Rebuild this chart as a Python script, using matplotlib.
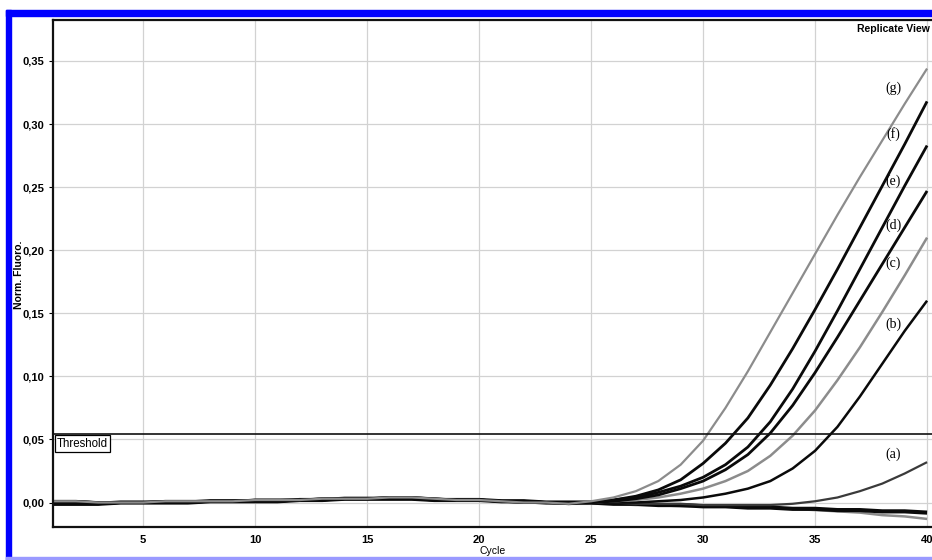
import matplotlib
matplotlib.use("Agg")
import matplotlib.pyplot as plt
from matplotlib.patches import Rectangle

# cycles 1..40
cycles = list(range(1, 41))

# shared early baselines (cycles 1..24)
base_a = [-0.001, -0.001, -0.001, 0.000, 0.000, 0.000, 0.000, 0.001, 0.001, 0.001, 0.001, 0.002,
          0.002, 0.003, 0.003, 0.003, 0.003, 0.002, 0.002, 0.002, 0.001, 0.001, 0.000, 0.000]
base_b = [0.001, 0.001, 0.000, 0.000, 0.000, 0.001, 0.001, 0.001, 0.001, 0.002, 0.002, 0.002,
          0.003, 0.003, 0.003, 0.004, 0.004, 0.003, 0.002, 0.002, 0.001, 0.000, 0.000, -0.001]

# cycles 25..40
tail_g = [0.001, 0.004, 0.009, 0.017, 0.030, 0.049, 0.075, 0.104, 0.135, 0.166, 0.197, 0.228, 0.258, 0.287, 0.316, 0.344]
tail_f = [0.000, 0.002, 0.005, 0.010, 0.018, 0.031, 0.047, 0.067, 0.093, 0.122, 0.153, 0.185, 0.218, 0.251, 0.284, 0.318]
tail_e = [0.000, 0.002, 0.004, 0.008, 0.013, 0.020, 0.030, 0.044, 0.064, 0.090, 0.120, 0.152, 0.185, 0.218, 0.251, 0.283]
tail_d = [0.000, 0.001, 0.003, 0.006, 0.011, 0.017, 0.026, 0.038, 0.055, 0.077, 0.103, 0.131, 0.160, 0.189, 0.218, 0.247]
tail_c = [0.000, 0.001, 0.002, 0.004, 0.007, 0.011, 0.017, 0.025, 0.037, 0.053, 0.073, 0.097, 0.123, 0.151, 0.180, 0.210]
tail_b = [0.000, 0.000, 0.000, 0.001, 0.002, 0.004, 0.007, 0.011, 0.017, 0.027, 0.041, 0.060, 0.084, 0.110, 0.136, 0.160]
tail_a = [0.000, 0.000, -0.001, -0.001, -0.001, -0.002, -0.002, -0.002, -0.002, -0.001, 0.001, 0.004, 0.009, 0.015, 0.023, 0.032]
tail_neg1 = [0.000, -0.001, -0.001, -0.002, -0.002, -0.003, -0.003, -0.004, -0.004, -0.005, -0.005, -0.006, -0.006, -0.007, -0.007, -0.008]
tail_neg2 = [-0.001, -0.001, -0.002, -0.002, -0.003, -0.003, -0.003, -0.004, -0.004, -0.005, -0.006, -0.007, -0.008, -0.010, -0.011, -0.013]

threshold = 0.0543

labels = ["(a)", "(b)", "(c)", "(d)", "(e)", "(f)", "(g)"]
label_y = [0.038, 0.141, 0.190, 0.220, 0.255, 0.292, 0.328]
label_x = 38.5

gray = "#8c8c8c"
black = "#0a0a0a"

curves = [
    (base_b + tail_neg2, gray, 1.8),
    (base_a + tail_neg1, black, 3.0),
    (base_b + tail_a, "#3a3a3a", 1.6),
    (base_a + tail_b, black, 1.8),
    (base_b + tail_c, gray, 1.8),
    (base_a + tail_d, black, 2.0),
    (base_b + tail_e, black, 2.0),
    (base_a + tail_f, black, 2.0),
    (base_b + tail_g, gray, 1.6),
]

fig = plt.figure(figsize=(9.32, 5.6), dpi=100)
ax = fig.add_axes([53 / 932, 1 - 527 / 560, 1 - 53 / 932, (527 - 20) / 560])

for y, col, lw in curves:
    ax.plot(cycles, y, color=col, lw=lw, solid_capstyle="butt", solid_joinstyle="round")

ax.axhline(threshold, color="#111111", lw=1.2)
ax.text(1.15, threshold - 0.0028, "Threshold", fontsize=8.3, family="Liberation Sans",
        va="top", ha="left",
        bbox=dict(boxstyle="square,pad=0.18", fc="white", ec="black", lw=0.9))

for lab, ly in zip(labels, label_y):
    ax.text(label_x, ly, lab, fontsize=10, family="Liberation Serif", ha="center", va="center")

ax.set_xlim(0.98, 40.22)
ax.set_ylim(-0.0194, 0.3825)
ax.set_xticks(range(5, 41, 5))
ax.set_yticks([0.0, 0.05, 0.10, 0.15, 0.20, 0.25, 0.30, 0.35])
ax.set_yticklabels(["0,00", "0,05", "0,10", "0,15", "0,20", "0,25", "0,30", "0,35"])
ax.grid(True, color="#d2d2d2", lw=0.9)
ax.set_axisbelow(True)
ax.tick_params(axis="both", labelsize=8, length=3, width=0.8)
ax.tick_params(axis="x", length=0, pad=6)
for lab in ax.get_xticklabels() + ax.get_yticklabels():
    lab.set_fontweight("bold")
    lab.set_family("Liberation Sans")
for s in ax.spines.values():
    s.set_linewidth(1.6)
    s.set_color("#111111")
ax.spines["right"].set_visible(False)

ax.set_xlabel("Cycle", fontsize=7.5, family="Liberation Sans")
ax.xaxis.set_label_coords(0.5, -0.038)
ax.set_ylabel("Norm. Fluoro.", fontsize=7.5, fontweight="bold", family="Liberation Sans")
ax.yaxis.set_label_coords(-0.0335, 0.497)

fig.text(930 / 932, 1 - 29 / 560, "Replicate View", fontsize=7.5, fontweight="bold",
         family="Liberation Sans", va="center", ha="right")

# blue frame
fig.patches.append(Rectangle((6 / 932, 0), 5 / 932, 1 - 10 / 560, transform=fig.transFigure,
                             color="#0000ff", zorder=5))
fig.patches.append(Rectangle((6 / 932, 1 - 16 / 560), 1, 6 / 560, transform=fig.transFigure,
                             color="#0000ff", zorder=5))
fig.patches.append(Rectangle((6 / 932, 0), 1, 3 / 560, transform=fig.transFigure,
                             color="#9a9aff", zorder=5))

fig.savefig("out.png", dpi=100)
